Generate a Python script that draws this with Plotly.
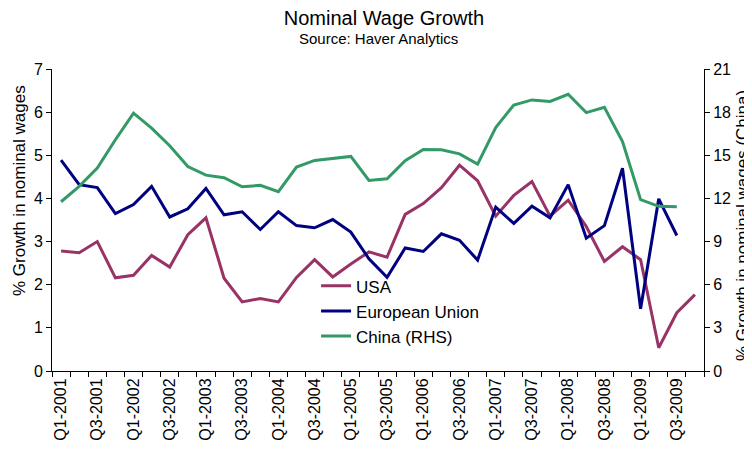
"""
Nominal wage growth: USA, EU, China (RHS)
"""

import plotly.graph_objects as go

# 季度标签
quarters = [f"Q{q}-{y}" for y in range(2001, 2010) for q in range(1, 5)]
tick_text = [lbl if lbl.startswith(("Q1", "Q3")) else "" for lbl in quarters]

usa = [
    2.78, 2.74, 3.00, 2.16, 2.22, 2.68, 2.41, 3.16, 3.55, 2.15, 1.60, 1.68,
    1.60, 2.17, 2.58, 2.18, 2.48, 2.76, 2.64, 3.63, 3.88, 4.25, 4.77, 4.41,
    3.59, 4.07, 4.39, 3.59, 3.96, 3.35, 2.54, 2.88, 2.58, 0.54, 1.35, 1.77,
]
eu = [
    4.89, 4.32, 4.25, 3.65, 3.86, 4.28, 3.57, 3.76, 4.23, 3.62, 3.69, 3.28,
    3.69, 3.37, 3.32, 3.51, 3.22, 2.60, 2.17, 2.85, 2.77, 3.18, 3.03, 2.57,
    3.80, 3.42, 3.82, 3.55, 4.32, 3.08, 3.37, 4.70, 1.44, 3.99, 3.14, None,
]
china = [
    11.77, 12.84, 14.11, 16.08, 17.93, 16.89, 15.66, 14.22, 13.62, 13.44,
    12.81, 12.91, 12.47, 14.18, 14.64, 14.76, 14.92, 13.25, 13.37, 14.62,
    15.40, 15.38, 15.10, 14.39, 16.93, 18.50, 18.85, 18.74, 19.24, 17.97,
    18.34, 15.96, 11.91, 11.45, 11.43, None,
]

FONT = "Liberation Sans, Arial, sans-serif"

fig = go.Figure()
fig.add_trace(go.Scatter(x=quarters, y=usa, mode="lines", name="USA",
                         line=dict(color="#993366", width=3)))
fig.add_trace(go.Scatter(x=quarters, y=eu, mode="lines", name="European Union",
                         line=dict(color="#000080", width=3)))
fig.add_trace(go.Scatter(x=quarters, y=china, mode="lines", name="China (RHS)",
                         line=dict(color="#339966", width=3), yaxis="y2"))

axis_common = dict(
    showline=True, linecolor="black", linewidth=1, showgrid=False,
    zeroline=False, ticks="outside", ticklen=5, tickcolor="black",
    tickfont=dict(size=16, color="black"), automargin=False,
)

# 页面 body 有 8px 默认边距，这里把边距整体往回收
fig.update_layout(
    width=752,
    height=450,
    margin=dict(l=44, r=56, t=61, b=87),
    paper_bgcolor="white",
    plot_bgcolor="white",
    font=dict(family=FONT, color="black"),
    title=dict(text="Nominal Wage Growth", x=0.5, xanchor="center",
               y=1 - 10 / 450, yanchor="middle", yref="container",
               font=dict(size=20, color="black")),
    showlegend=True,
    legend=dict(x=0.405, y=0.34, xanchor="left", yanchor="top",
                bgcolor="rgba(0,0,0,0)", font=dict(size=17)),
    xaxis=dict(
        axis_common,
        type="category",
        tickmode="array",
        tickvals=quarters,
        ticktext=tick_text,
        tickson="boundaries",
        tickangle=-90,
        range=[-0.5, 35.5],
    ),
    yaxis=dict(axis_common, range=[0, 7], dtick=1),
    yaxis2=dict(
        axis_common,
        overlaying="y", side="right",
        range=[0, 21], dtick=3,
    ),
    annotations=[
        dict(text="Source: Haver Analytics", x=0.5, xref="paper",
             y=(371 - 39) / 302, yref="paper", yanchor="middle",
             showarrow=False, font=dict(size=15, color="black")),
        dict(text="% Growth in nominal wages", textangle=-90,
             x=(19 - 52) / 652, xref="paper", xanchor="center",
             y=(371 - 191) / 302, yref="paper", yanchor="middle",
             showarrow=False, font=dict(size=17, color="black")),
        dict(text="% Growth in nominal wages (China)", textangle=-90,
             x=(742 - 52) / 652, xref="paper", xanchor="center",
             y=(371 - 226) / 302, yref="paper", yanchor="middle",
             showarrow=False, font=dict(size=17, color="black")),
    ],
)

fig.write_html("out.html")
